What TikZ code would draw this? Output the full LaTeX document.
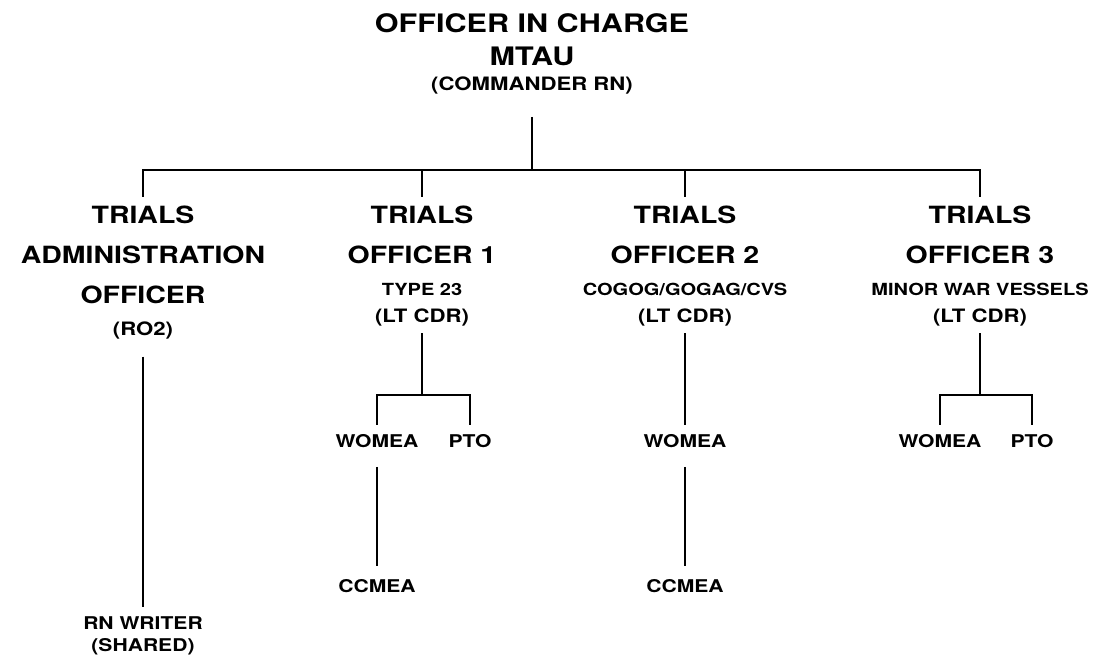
\documentclass[tikz,border=0pt]{standalone}
\usepackage{fontspec}
\newfontfamily\chartfont{TeX Gyre Heros}[FakeStretch=1.2]
\newcommand{\titlesz}{\fontsize{14.5}{18.7}\selectfont}
\newcommand{\postsz}{\fontsize{13.5}{22.7}\selectfont}
\newcommand{\ranksz}{\fontsize{10.5}{12}\selectfont}
\newcommand{\subsz}{\fontsize{9.5}{12}\selectfont}
\newcommand{\leafsz}{\fontsize{10}{12.5}\selectfont}
\tikzset{
  head/.style={align=center, inner sep=0pt, anchor=base, font=\chartfont\bfseries\titlesz},
  post/.style={align=center, inner sep=0pt, anchor=base, font=\chartfont\bfseries\postsz},
  leaf/.style={align=center, inner sep=0pt, anchor=base, font=\chartfont\bfseries\leafsz},
  conn/.style={line width=1.1pt}
}

\begin{document}
\begin{tikzpicture}[x=0.02cm, y=-0.02cm]
\useasboundingbox (0,0) rectangle (1109,656);

% officer in charge (base = last line)
\node (oic) [head] at (532,90) {OFFICER IN CHARGE\\MTAU\\[-4.5pt]{\ranksz (COMMANDER RN)}};
\coordinate (bus) at (532,170);

% trials officers
\node (adm) [post] at (143,335) {TRIALS\\ADMINISTRATION\\OFFICER\\[-4.5pt]{\ranksz (RO2)}};
\node (to1) [post] at (422,322) {TRIALS\\OFFICER 1\\[-4.5pt]{\subsz TYPE 23}\\[-7.4pt]{\ranksz (LT CDR)}};
\node (to2) [post] at (685,322) {TRIALS\\OFFICER 2\\[-4.5pt]{\subsz COGOG/GOGAG/CVS}\\[-7.4pt]{\ranksz (LT CDR)}};
\node (to3) [post] at (980,322) {TRIALS\\OFFICER 3\\[-4.5pt]{\subsz MINOR WAR VESSELS}\\[-7.4pt]{\ranksz (LT CDR)}};

% staff
\node (writer) [leaf] at (143,651) {RN WRITER\\(SHARED)};
\node (w1) [leaf] at (377,447) {WOMEA};
\node (p1) [leaf] at (470,447) {PTO};
\node (c1) [leaf] at (377,592) {CCMEA};
\node (w2) [leaf] at (685,447) {WOMEA};
\node (c2) [leaf] at (685,592) {CCMEA};
\node (w3) [leaf] at (940,447) {WOMEA};
\node (p3) [leaf] at (1032,447) {PTO};
\coordinate (b1) at (422,395);
\coordinate (b3) at (980,395);

\draw [conn, shorten <=13pt] (oic.south) -- (bus);
\draw [conn, shorten >=5pt] (bus) -| (adm.north);
\draw [conn, shorten >=5pt] (bus) -| (to1.north);
\draw [conn, shorten >=5pt] (bus) -| (to2.north);
\draw [conn, shorten >=5pt] (bus) -| (to3.north);
\draw [conn, shorten <=10pt, shorten >=5pt] (adm.south) -- (writer.north);
\draw [conn, shorten <=4pt] (to1.south) -- (b1);
\draw [conn, shorten >=5pt] (b1) -| (w1.north);
\draw [conn, shorten >=5pt] (b1) -| (p1.north);
\draw [conn, shorten <=11pt, shorten >=7pt] (w1.south) -- (c1.north);
\draw [conn, shorten <=4pt, shorten >=5pt] (to2.south) -- (w2.north);
\draw [conn, shorten <=11pt, shorten >=7pt] (w2.south) -- (c2.north);
\draw [conn, shorten <=4pt] (to3.south) -- (b3);
\draw [conn, shorten >=5pt] (b3) -| (w3.north);
\draw [conn, shorten >=5pt] (b3) -| (p3.north);

\end{tikzpicture}
\end{document}
